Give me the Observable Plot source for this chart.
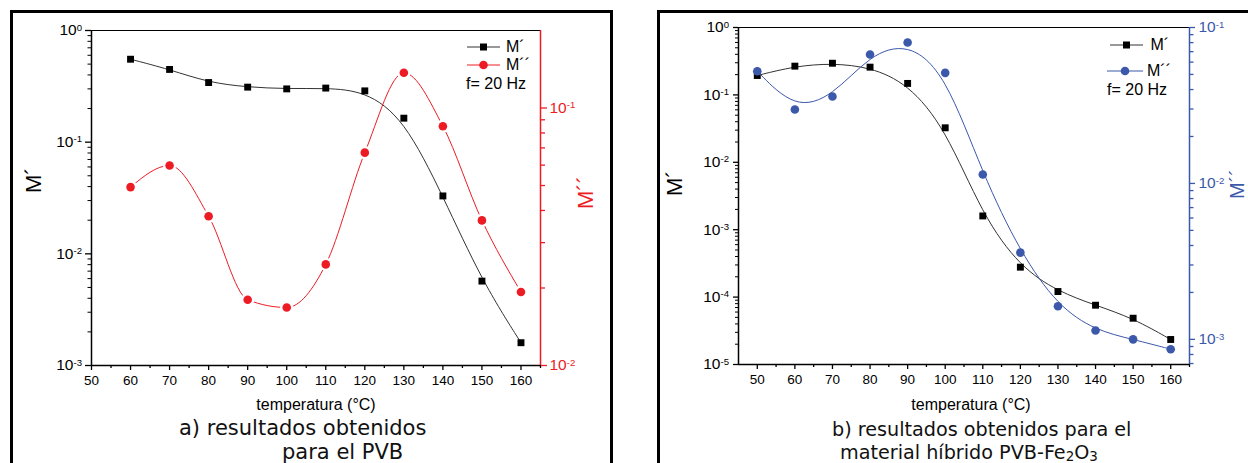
<!DOCTYPE html>
<html><head><meta charset="utf-8">
<script src="https://cdn.jsdelivr.net/npm/d3@7"></script>
<script src="https://cdn.jsdelivr.net/npm/@observablehq/plot@0.6"></script>
<style>
html,body{margin:0;padding:0;background:#fff;}
#root{position:relative;width:1248px;height:463px;overflow:hidden;background:#fff;font-family:"Liberation Sans",Arial,sans-serif;color:#000;}
#root svg.chart{position:absolute;background:transparent !important;overflow:visible;font-family:"Liberation Sans",Arial,sans-serif;max-width:none;}
.box{position:absolute;border:3px solid #000;box-sizing:border-box;}
.abs{position:absolute;white-space:nowrap;line-height:1;}
.cap{position:absolute;white-space:nowrap;font-family:"DejaVu Sans",sans-serif;line-height:1;color:#111;}
.vt{position:absolute;white-space:nowrap;transform:rotate(-90deg);transform-origin:0 0;line-height:1;font-size:22px;}
.leg{position:absolute;display:flex;align-items:center;height:16px;font-size:16px;white-space:nowrap;}
.leg svg{display:block;overflow:visible;}
</style></head><body><div id="root"></div>
<script>
// ---------- data ----------
const temperaturaPVB = [60, 70, 80, 90, 100, 110, 120, 130, 140, 150, 160];
const pvbMprima = [0.553, 0.448, 0.342, 0.311, 0.300, 0.305, 0.288, 0.164, 0.033, 0.0057, 0.0016];
const pvbMdoble = [0.0493, 0.0598, 0.038, 0.0180, 0.0168, 0.0247, 0.0671, 0.137, 0.085, 0.0366, 0.0193];

const temperaturaHib = [50, 60, 70, 80, 90, 100, 110, 120, 130, 140, 150, 160];
const hibMprima = [0.194, 0.267, 0.295, 0.258, 0.148, 0.0325, 0.0016, 0.000278, 0.000121, 0.0000758, 0.0000486, 0.0000235];
const hibMdoble = [0.0524, 0.0298, 0.0361, 0.0671, 0.0801, 0.0512, 0.0114, 0.0036, 0.00163, 0.00114, 0.00100, 0.000865];

const xTicks = [50, 60, 70, 80, 90, 100, 110, 120, 130, 140, 150, 160];
const xMinorTicks = [55, 65, 75, 85, 95, 105, 115, 125, 135, 145, 155, 165];

const RED = "#ED1C24", BLUE = "#3b58aa", DARK = "#333";

function decades(lo, hi) { const a = []; for (let e = lo; e <= hi; e++) a.push(Math.pow(10, e)); return a; }
function minors(lo, hi, min, max) {
  const a = [];
  for (let e = lo; e <= hi; e++) for (let k = 2; k <= 9; k++) { const v = +(k * Math.pow(10, e)).toPrecision(3); if (v >= min && v <= max) a.push(v); }
  return a;
}
const expFmt = d => "10^" + Math.round(Math.log10(d));

function supify(svg) {
  svg.querySelectorAll("text").forEach(t => {
    const m = /^10\^(-?\d+)$/.exec(t.textContent);
    if (m) {
      t.textContent = "10";
      const ts = document.createElementNS("http://www.w3.org/2000/svg", "tspan");
      ts.setAttribute("dy", "-0.5em");
      ts.setAttribute("font-size", "0.62em");
      ts.textContent = m[1];
      t.appendChild(ts);
    }
  });
}

const root = document.getElementById("root");
function place(svg, left, top) {
  svg.classList.add("chart");
  svg.style.left = left + "px";
  svg.style.top = top + "px";
  supify(svg);
  root.appendChild(svg);
}
function html(cls, text, css) {
  const d = document.createElement("div");
  d.className = cls;
  d.innerHTML = text;
  Object.assign(d.style, css);
  root.appendChild(d);
  return d;
}

// ---------- panel frames ----------
html("box", "", {left: "10px", top: "10px", width: "603px", height: "490px"});
html("box", "", {left: "657px", top: "10px", width: "620px", height: "490px"});

// ---------- panel a ----------
const rowsA = temperaturaPVB.map((t, i) => ({t, m1: pvbMprima[i], m2: pvbMdoble[i]}));
const geomA = {width: 590, height: 390, marginLeft: 77, marginRight: 64, marginTop: 16, marginBottom: 39};
const xDomA = [50, 165];
const yDomA1 = [1e-3, 1];
const yDomA2 = [0.01, 0.2];

const a1 = Plot.plot({
  ...geomA,
  x: {domain: xDomA, label: null},
  y: {type: "log", domain: yDomA1, label: null},
  marks: [
    Plot.ruleY([yDomA1[1]], {stroke: "#000", strokeWidth: 1.2}),
    Plot.ruleY([yDomA1[0]], {stroke: "#000", strokeWidth: 1.5}),
    Plot.ruleX([xDomA[0]], {stroke: "#000", strokeWidth: 1.5}),
    Plot.axisX({ticks: xTicks, tickSize: 5, tickPadding: 4.5, fontSize: 13.5, tickFormat: d => String(d), label: null, strokeWidth: 1.3}),
    Plot.axisX({ticks: xMinorTicks, tickSize: 3, tickFormat: () => "", label: null, strokeWidth: 1.3}),
    Plot.axisY({ticks: decades(-3, 0), tickSize: 6, tickPadding: 3.5, fontSize: 15.5, tickFormat: expFmt, label: null, strokeWidth: 1.3}),
    Plot.axisY({ticks: minors(-3, -1, 1e-3, 1), tickSize: 3.5, tickFormat: () => "", label: null}),
    Plot.line(rowsA, {x: "t", y: "m1", curve: "basis", stroke: DARK, strokeWidth: 1}),
    Plot.dot(rowsA, {x: "t", y: "m1", symbol: "square", r: 3.9, fill: "#000", stroke: "none"})
  ]
});
place(a1, 14, 14);

const a2 = Plot.plot({
  ...geomA,
  x: {domain: xDomA, label: null, axis: null},
  y: {type: "log", domain: yDomA2, label: null, axis: null},
  marks: [
    Plot.ruleX([xDomA[1]], {stroke: RED, strokeWidth: 1.5}),
    Plot.axisY({anchor: "right", ticks: decades(-2, -1), tickSize: 6, tickPadding: 3, fontSize: 15.5, tickFormat: expFmt, label: null, stroke: RED, fill: RED, strokeWidth: 1.3}),
    Plot.axisY({anchor: "right", ticks: minors(-2, -2, 0.01, 0.2), tickSize: 4, tickFormat: () => "", label: null, stroke: RED, strokeWidth: 1.3}),
    Plot.line(rowsA, {x: "t", y: "m2", curve: "monotone-x", stroke: RED, strokeWidth: 1}),
    Plot.dot(rowsA, {x: "t", y: "m2", r: 6.6, fill: "#fff", stroke: "none"}),
    Plot.dot(rowsA, {x: "t", y: "m2", r: 4.3, fill: RED, stroke: "none"})
  ]
});
place(a2, 14, 14);

// ---------- panel b ----------
const rowsB = temperaturaHib.map((t, i) => ({t, m1: hibMprima[i], m2: hibMdoble[i]}));
const geomB = {width: 587, height: 390, marginLeft: 77, marginRight: 59, marginTop: 13, marginBottom: 40};
const xDomB = [45, 165];
const yDomB1 = [1e-5, 1];
const yDomB2 = [6.9e-4, 0.1];

const b1 = Plot.plot({
  ...geomB,
  x: {domain: xDomB, label: null},
  y: {type: "log", domain: yDomB1, label: null},
  marks: [
    Plot.ruleY([yDomB1[1]], {stroke: "#000", strokeWidth: 1.2}),
    Plot.ruleY([yDomB1[0]], {stroke: "#000", strokeWidth: 1.5}),
    Plot.ruleX([xDomB[0]], {stroke: "#000", strokeWidth: 1.5}),
    Plot.axisX({ticks: xTicks, tickSize: 5, tickPadding: 4.5, fontSize: 13.5, tickFormat: d => String(d), label: null, strokeWidth: 1.3}),
    Plot.axisX({ticks: xMinorTicks, tickSize: 3, tickFormat: () => "", label: null, strokeWidth: 1.3}),
    Plot.axisY({ticks: decades(-5, 0), tickSize: 5, tickPadding: 4.5, fontSize: 15.5, tickFormat: expFmt, label: null, strokeWidth: 1.3}),
    Plot.axisY({ticks: minors(-5, -1, 1e-5, 1), tickSize: 3, tickFormat: () => "", label: null}),
    Plot.line(rowsB, {x: "t", y: "m1", curve: "basis", stroke: DARK, strokeWidth: 1}),
    Plot.dot(rowsB, {x: "t", y: "m1", symbol: "square", r: 3.9, fill: "#000", stroke: "none"})
  ]
});
place(b1, 661, 14);

const b2 = Plot.plot({
  ...geomB,
  x: {domain: xDomB, label: null, axis: null},
  y: {type: "log", domain: yDomB2, label: null, axis: null},
  marks: [
    Plot.ruleX([xDomB[1]], {stroke: BLUE, strokeWidth: 1.5}),
    Plot.axisY({anchor: "right", ticks: decades(-3, -1), tickSize: 5, tickPadding: 4, fontSize: 15.5, tickFormat: expFmt, label: null, stroke: BLUE, fill: BLUE, strokeWidth: 1.3}),
    Plot.axisY({anchor: "right", ticks: minors(-4, -2, 6.9e-4, 0.1), tickSize: 3.5, tickFormat: () => "", label: null, stroke: BLUE, strokeWidth: 1.3}),
    Plot.line(rowsB, {x: "t", y: "m2", curve: "basis", stroke: BLUE, strokeWidth: 1}),
    Plot.dot(rowsB, {x: "t", y: "m2", r: 4.3, fill: BLUE, stroke: "none"})
  ]
});
place(b2, 661, 14);

// ---------- axis titles ----------
html("vt", "M´", {left: "23px", top: "193px"});
html("vt", "M´´", {left: "575px", top: "209px", color: RED});
html("vt", "M´", {left: "664px", top: "196px"});
html("vt", "M´´", {left: "1227px", top: "199px", color: BLUE, fontSize: "20px"});
html("abs", "temperatura (°C)", {left: "316px", top: "396.5px", fontSize: "16px", transform: "translateX(-50%)"});
html("abs", "temperatura (°C)", {left: "971px", top: "396.5px", fontSize: "16px", transform: "translateX(-50%)"});

// ---------- legends ----------
function legendRow(left, cy, width, color, kind, label, gap) {
  const sym = kind === "square"
    ? `<rect x="${width / 2 - 3.5}" y="2.5" width="7" height="7" fill="#000"/>`
    : `<circle cx="${width / 2}" cy="6" r="4.3" fill="${color}"/>`;
  html("leg", `<svg width="${width}" height="12"><line x1="0" x2="${width}" y1="6" y2="6" stroke="${color}" stroke-width="1"/>${sym}</svg><span style="margin-left:${gap}px">${label}</span>`,
    {left: left + "px", top: (cy - 8) + "px"});
}
legendRow(467, 47, 33, DARK, "square", "M´", 6);
legendRow(467, 64.5, 33, RED, "circle", "M´´", 6);
html("leg", "f= 20 Hz", {left: "466px", top: "75.5px"});

legendRow(1110, 45, 33, DARK, "square", "M´", 7.5);
legendRow(1107, 71, 36, BLUE, "circle", "M´´", 4);
html("leg", "f= 20 Hz", {left: "1107px", top: "82px"});

// ---------- captions ----------
html("cap", "a) resultados obtenidos", {left: "179px", top: "418px", fontSize: "21px"});
html("cap", "para el PVB", {left: "282px", top: "441.5px", fontSize: "21px"});
html("cap", "b) resultados obtenidos para el", {left: "832px", top: "419.5px", fontSize: "19.2px"});
html("cap", "material híbrido PVB-Fe<sub style='font-size:0.7em;vertical-align:-0.12em;line-height:0'>2</sub>O<sub style='font-size:0.7em;vertical-align:-0.12em;line-height:0'>3</sub>", {left: "840px", top: "442.5px", fontSize: "19.2px"});
</script>
</body></html>
